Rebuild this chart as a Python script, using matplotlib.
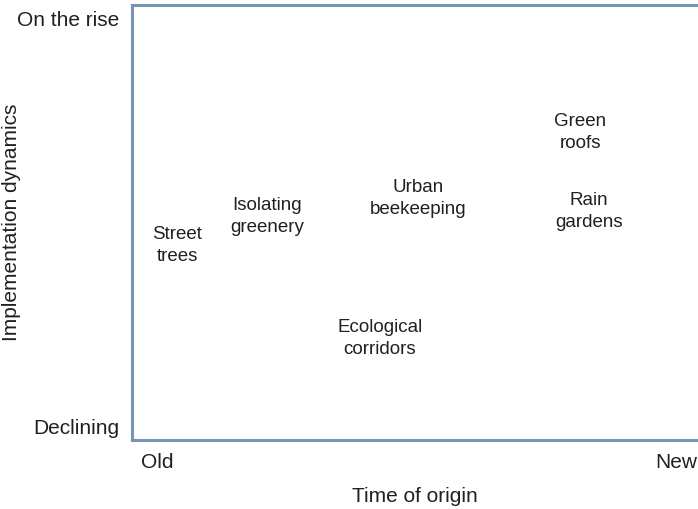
import matplotlib.pyplot as plt

plt.rcParams['font.family'] = ['Liberation Sans', 'DejaVu Sans']

# Positions of each practice: x = time of origin (0 old .. 1 new), y = dynamics (0 declining .. 1 on the rise)
labels = ["Street\ntrees", "Isolating\ngreenery", "Urban\nbeekeeping",
          "Green\nroofs", "Rain\ngardens", "Ecological\ncorridors"]
origin = [0.080, 0.239, 0.505, 0.792, 0.807, 0.438]
dynamics = [0.448, 0.513, 0.556, 0.706, 0.526, 0.234]

xticks = [0.045, 0.961]
xticklabels = ["Old", "New"]
yticks = [0.03, 0.97]
yticklabels = ["Declining", "On the rise"]

spine_col = "#7594b6"
text_col = "#231f20"

fig = plt.figure(figsize=(6.98, 5.09), dpi=100)
ax = fig.add_axes([132 / 698, 69 / 509, 1 - 132 / 698, 435 / 509])
ax.set_xlim(0, 1)
ax.set_ylim(0, 1)

for lab, x, y in zip(labels, origin, dynamics):
    ax.text(x, y, lab, ha="center", va="center", fontsize=13.5,
            color=text_col, linespacing=1.4)

ax.spines["right"].set_visible(False)
for s in ["left", "top", "bottom"]:
    ax.spines[s].set_color(spine_col)
    ax.spines[s].set_linewidth(2.2)

ax.set_xticks(xticks)
ax.set_xticklabels(xticklabels, fontsize=15, color=text_col)
ax.set_yticks(yticks)
ax.set_yticklabels(yticklabels, fontsize=15, color=text_col)
ax.tick_params(length=0, pad=9)

ax.set_xlabel("Time of origin", fontsize=15, color=text_col, labelpad=11)
ax.set_ylabel("Implementation dynamics", fontsize=15, color=text_col, labelpad=-3)

fig.savefig("out.png", dpi=100)
